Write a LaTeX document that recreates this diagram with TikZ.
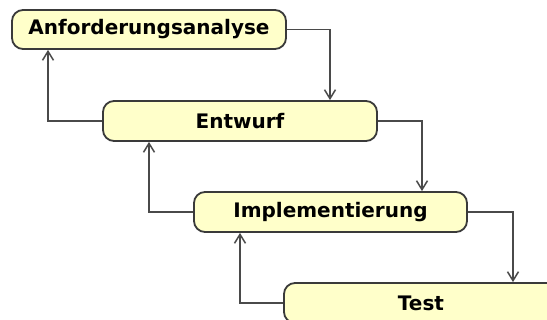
\documentclass[tikz,border=0pt]{standalone}
\usepackage{fontspec}
\setsansfont{DejaVu Sans}
\usetikzlibrary{arrows.meta}
\definecolor{phasefill}{HTML}{FFFFCA}
\definecolor{phaseline}{HTML}{3A3A3A}
\definecolor{flowline}{HTML}{4A4A4A}
\tikzset{
  phase/.style={draw=phaseline, line width=1.8pt, fill=phasefill,
    rounded corners=11pt, minimum width=274pt, minimum height=40pt,
    inner sep=0pt, font=\sffamily\bfseries\fontsize{20}{22}\selectfont},
  flow/.style={draw=flowline, line width=1.8pt,
    -{Straight Barb[length=9pt,width=11pt,line width=1.5pt]}}
}
\begin{document}
\begin{tikzpicture}[x=1pt,y=-1pt]
  \useasboundingbox (0,0) rectangle (547,320);
  \clip (0,0) rectangle (547,320);
  \node[phase, minimum height=39pt] (req)  at (149,29.5) {Anforderungsanalyse};
  \node[phase] (des)  at (240,121)   {Entwurf};
  \node[phase, minimum width=273pt] (impl) at (330.5,212) {Implementierung};
  \node[phase] (test) at (421,303)   {Test};
  % forward flow down the cascade
  \draw[flow] (req.east)  -| ([xshift=90pt]des.north);
  \draw[flow] (des.east)  -| ([xshift=91.5pt]impl.north);
  \draw[flow] (impl.east) -| ([xshift=92pt]test.north);
  % feedback to the previous phase
  \draw[flow] (des.west)  -| ([xshift=-101pt]req.south);
  \draw[flow] (impl.west) -| ([xshift=-91pt]des.south);
  \draw[flow] (test.west) -| ([xshift=-90.5pt]impl.south);
\end{tikzpicture}
\end{document}
